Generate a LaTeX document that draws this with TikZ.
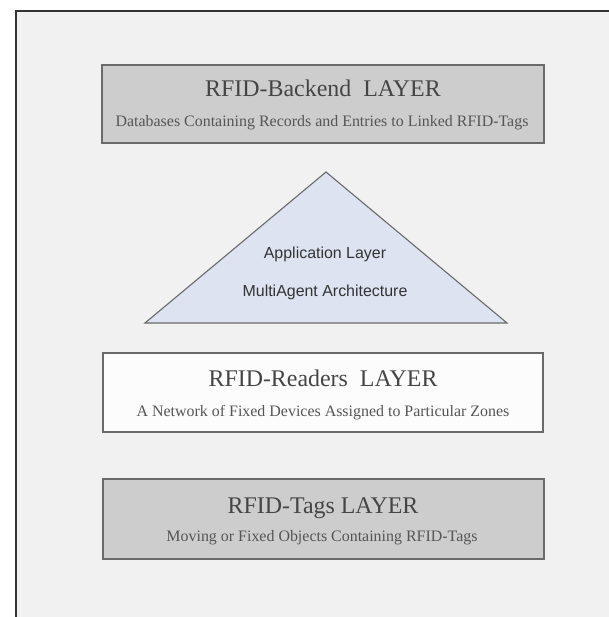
\documentclass[tikz,border=0pt]{standalone}
\usepackage{fontspec}
\setmainfont{Liberation Serif}
\newfontfamily\arialfont{Liberation Sans}
\definecolor{bgc}{HTML}{F0F1F0}
\definecolor{boxgray}{HTML}{CCCDCC}
\definecolor{boxwhite}{HTML}{FBFCFB}
\definecolor{trifill}{HTML}{DDE3F0}
\definecolor{edgec}{HTML}{6A6A6A}
\definecolor{titlec}{HTML}{454545}
\definecolor{subc}{HTML}{555555}
\begin{document}
\begin{tikzpicture}[x=1bp,y=-1bp,
  layerbox/.style={draw=edgec, line width=1.3bp},
  titletext/.style={anchor=base, inner sep=0pt, text=titlec, font=\fontsize{24}{28}\selectfont},
  subtext/.style={anchor=base, inner sep=0pt, text=subc, font=\fontsize{16}{19}\selectfont},
  tritext/.style={anchor=center, inner sep=0pt, text=black!80, font=\arialfont\fontsize{16}{19}\selectfont}]
\useasboundingbox (0,0) rectangle (609,617);
\fill[white] (0,0) rectangle (609,617);
\fill[bgc] (16,11) rectangle (609,617);
\draw[black!80, line width=1.2bp] (16,617) -- (16,11) -- (609,11);
% Backend layer
\draw[layerbox, fill=boxgray] (102,65) rectangle (544,143);
\node[titletext] (bt) at (323,97) {RFID-Backend\ \ LAYER};
\node[subtext] (bs) at (322,127) {Databases Containing Records and Entries to Linked RFID-Tags};
% Application triangle
\coordinate (tA) at (326,172);
\coordinate (tL) at (145,323);
\coordinate (tR) at (507,323);
\draw[draw=edgec, line width=1.1bp, fill=trifill, line join=miter] (tA) -- (tL) -- (tR) -- cycle;
\node[tritext] (ta) at (325,254) {Application Layer};
\node[tritext] (tm) at (325,292) {MultiAgent Architecture};
% Readers layer
\draw[layerbox, fill=boxwhite] (103,353) rectangle (543,432);
\node[titletext] (rt) at (323,386) {RFID-Readers\ \ LAYER};
\node[subtext] (rs) at (323,416) {A Network of Fixed Devices Assigned to Particular Zones};
% Tags layer
\draw[layerbox, fill=boxgray] (103,479) rectangle (544,559);
\node[titletext] (gt) at (323,513) {RFID-Tags LAYER};
\node[subtext] (gs) at (322,541) {Moving or Fixed Objects Containing RFID-Tags};
\end{tikzpicture}
\end{document}
